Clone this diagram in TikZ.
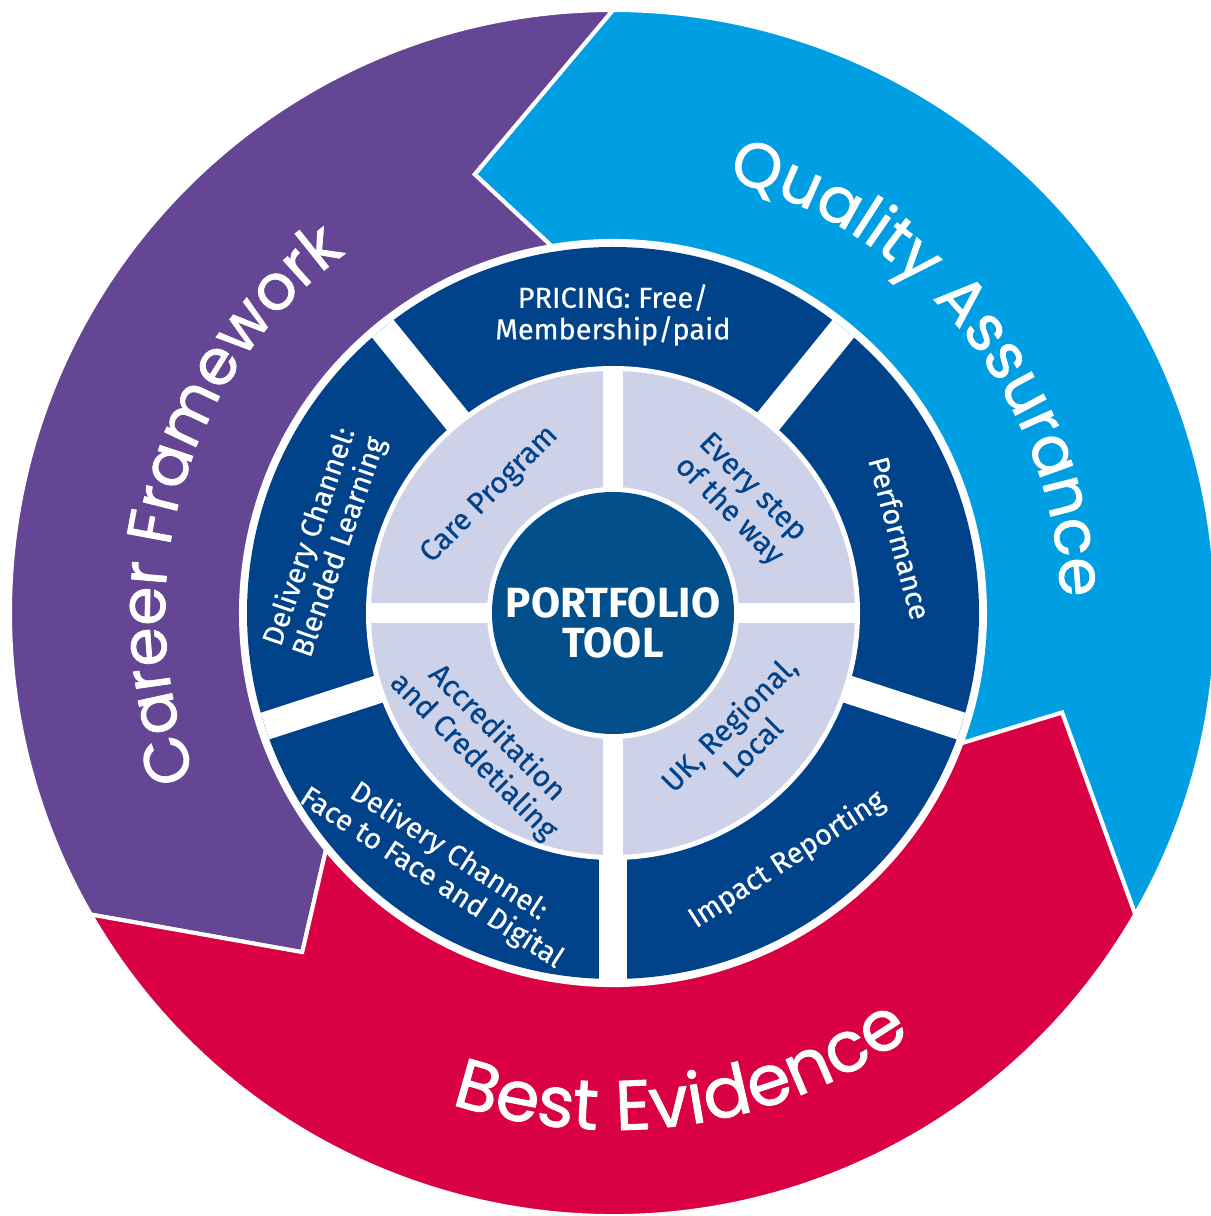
\documentclass[tikz,border=0pt]{standalone}
\usepackage{fontspec}
\setmainfont{Fira Sans}
\newfontfamily\cellfont{Fira Sans}[FakeBold=0.4]
\newfontfamily\ringfont{Poppins}[FakeBold=1.2]
\usetikzlibrary{decorations.text}

\definecolor{cfpurple}{HTML}{644694}
\definecolor{qablue}{HTML}{009FE3}
\definecolor{bered}{HTML}{DA0044}
\definecolor{navy}{HTML}{00438A}
\definecolor{hubblue}{HTML}{034F8C}
\definecolor{lilac}{HTML}{CED2E8}

\begin{document}
\begin{tikzpicture}[x=0.02cm, y=0.02cm,
  band/.style={draw=white, line width=2.3pt, line join=miter},
  darklabel/.style={text=white, align=center, font=\cellfont\fontsize{16.5}{18}\selectfont},
  lightlabel/.style={text=navy, align=center, font=\cellfont\fontsize{17}{19}\selectfont},
  ringlabel/.style 2 args={decorate, decoration={text along path, text align=center,
    text color=white, text={|\ringfont\fontsize{#1}{#1}\selectfont|#2}}}]
\useasboundingbox (-613,-603) rectangle (597,613);
\def\R{603} \def\Ri{372} \def\Rt{460}
% outer band, three arrows running anticlockwise
\path [band, fill=qablue] (330:\R) arc[start angle=330, end angle=450, radius=\R] -- (107.5:\Rt) -- (99.5:\Ri) arc[start angle=99.5, end angle=-20.5, radius=\Ri] -- (347.5:\Rt) -- cycle;
\path [band, fill=cfpurple] (90:\R) arc[start angle=90, end angle=210, radius=\R] -- (227.5:\Rt) -- (219.5:\Ri) arc[start angle=219.5, end angle=99.5, radius=\Ri] -- (107.5:\Rt) -- cycle;
\path [band, fill=bered] (210:\R) arc[start angle=210, end angle=330, radius=\R] -- (347.5:\Rt) -- (339.5:\Ri) arc[start angle=339.5, end angle=219.5, radius=\Ri] -- (227.5:\Rt) -- cycle;
\path [ringlabel={36}{Career Framework}] (224:448) arc[start angle=224, end angle=104, radius=448];
\path [ringlabel={36}{Quality Assurance}] (98.6:448) arc[start angle=98.6, end angle=-21.4, radius=448];
\path [ringlabel={40}{Best Evidence}] (218.5:517) arc[start angle=218.5, end angle=338.5, radius=517];
% dark ring with five cells
\fill [navy] (0,0) circle[radius=366];
\foreach \a in {51,129,198,270,342}
  \draw [white, line width=15.9pt] (0,0) -- (\a:366);
\fill [white] (0,0) circle[radius=247];
% light ring with four cells
\fill [lilac] (0,0) circle[radius=242];
\foreach \a in {0,90,180,270}
  \draw [white, line width=11.4pt] (0,0) -- (\a:242);
\fill [white] (0,0) circle[radius=126];
\fill [hubblue] (0,0) circle[radius=121];
\node (hub) [text=white, align=center, font=\bfseries\fontsize{24}{23}\selectfont] at (0,-10) {PORTFOLIO\\TOOL};
\node (pricing) [darklabel] at (0,298) {PRICING: Free/\\Membership/paid};
\node (blended) [darklabel, rotate=71] at (-288,71) {Delivery Channel:\\Blended Learning};
\node (facetoface) [darklabel, rotate=-33] at (-173,-252) {Delivery Channel:\\Face to Face and Digital};
\node (impact) [darklabel, rotate=33] at (174,-247) {Impact Reporting};
\node (performance) [darklabel, rotate=-75] at (287,75) {Performance};
\node (care) [lightlabel, rotate=45] at (-123,118) {Care Program};
\node (everystep) [lightlabel, rotate=-45] at (127,113) {Every step\\of the way};
\node (accred) [lightlabel, rotate=-45] at (-128,-132) {Accreditation\\and Credetialing};
\node (local) [lightlabel, rotate=45] at (127,-122) {UK, Regional,\\Local};
\end{tikzpicture}
\end{document}
